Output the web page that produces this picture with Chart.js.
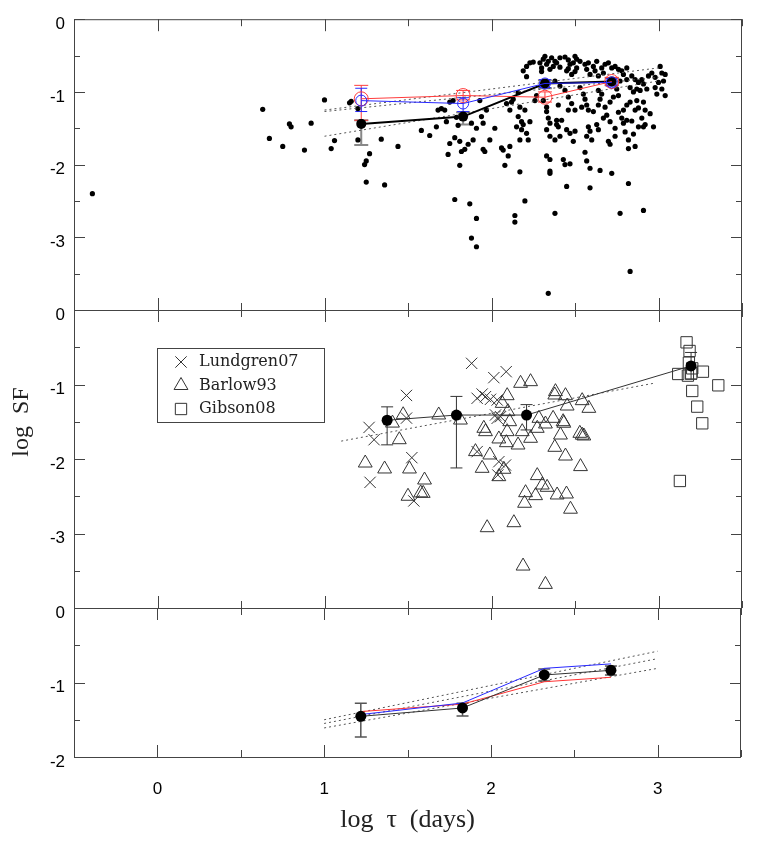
<!DOCTYPE html>
<html>
<head>
<meta charset="utf-8">
<script src="https://cdn.jsdelivr.net/npm/chart.js@4.4.1/dist/chart.umd.min.js"></script>
<style>
html, body { margin: 0; padding: 0; background: #fff; }
#wrap { position: relative; width: 763px; height: 850px; }
#wrap canvas { position: absolute; left: 0; top: 0; }
</style>
</head>
<body>
<div id="wrap">
<canvas id="panelTop" width="763" height="850"></canvas>
<canvas id="panelMid" width="763" height="850"></canvas>
<canvas id="panelBot" width="763" height="850"></canvas>
</div>
<script>
// ---- data (log tau, log SF) ----
var xTickValues = [-0.5, 0, 0.5, 1, 1.5, 2, 2.5, 3, 3.5];
var xTickLabels = ['', '0', '', '1', '', '2', '', '3', ''];

var quasarPairs = [
    [-0.39,-2.40],[0.63,-1.24],[0.67,-1.64],[0.75,-1.75],[0.79,-1.44],[0.80,-1.48],[0.88,-1.80],[0.92,-1.43],
    [1.00,-1.11],[1.04,-1.78],[1.06,-1.67],[1.15,-1.15],[1.16,-1.13],[1.20,-1.23],[1.20,-1.66],[1.22,-1.41],
    [1.27,-1.85],[1.25,-1.95],[1.24,-2.00],[1.25,-2.24],[1.34,-1.65],[1.36,-2.28],[1.44,-1.75],[1.58,-1.53],
    [1.63,-1.60],[1.67,-1.48],[1.68,-1.25],[1.73,-1.41],[1.75,-1.71],[1.74,-1.86],[1.78,-2.48],[1.81,-2.01],
    [1.79,-1.35],[1.80,-1.46],[1.82,-1.82],[1.84,-1.79],[1.87,-2.54],[1.88,-3.01],[1.91,-2.74],[1.91,-3.13],
    [1.96,-1.82],[2.02,-1.50],[2.07,-1.80],[2.08,-2.01],[2.10,-1.88],[2.14,-2.70],[2.14,-2.79],[2.17,-2.10],
    [2.20,-2.50],[2.34,-3.77],[2.38,-2.67],[2.35,-2.09],[2.35,-2.12],[2.45,-2.30],[2.59,-2.32],[2.72,-2.12],
    [2.82,-2.26],[2.77,-2.67],[2.91,-2.63],[2.83,-3.47],[2.43,-1.93],[2.44,-2.00],[2.47,-1.99],[2.56,-1.83],
    [2.57,-1.95],[2.59,-2.05],[2.65,-2.08],[2.35,-1.93],[2.33,-1.88],
    [2.36,-0.53],[2.38,-0.58],[2.37,-0.65],[2.23,-0.60],[2.21,-0.65],[2.19,-0.71],[2.21,-0.79],[2.25,-0.59],
    [2.29,-0.60],[2.30,-0.67],[2.16,-1.01],[2.13,-1.10],[2.12,-1.14],[2.09,-1.16],[2.11,-1.25],[2.17,-1.21],
    [2.20,-1.25],[2.16,-1.34],[2.18,-1.41],[2.19,-1.45],[2.15,-1.48],[2.18,-1.52],[2.21,-1.57],[2.22,-1.66],
    [2.17,-1.66],[2.23,-1.41],[2.31,-1.12],[2.33,-1.21],[2.33,-1.27],[2.34,-1.36],[2.35,-1.43],[2.33,-1.52],
    [2.39,-1.39],[2.40,-1.48],[2.35,-1.61],[2.38,-1.66],[2.27,-1.05],[2.26,-1.12],[1.93,-1.12],[1.94,-1.34],
    [1.95,-1.43],[1.91,-1.50],[1.88,-1.43],[1.97,-1.25],[1.99,-1.66],[1.89,-1.66],[1.81,-1.68],[1.86,-1.72],
    [1.78,-1.63],[1.77,-1.12],[1.75,-1.14],[1.72,-1.25],[1.70,-1.23],[2.11,-1.75],[2.06,-1.77],[1.95,-1.79],
    [2.41,-0.53],[2.39,-0.60],[2.46,-0.56],[2.47,-0.62],[2.45,-0.71],[2.48,-0.76],[2.50,-0.51],[2.51,-0.67],
    [2.53,-0.58],[2.56,-0.62],[2.57,-0.69],[2.58,-0.60],[2.59,-0.76],[2.61,-0.65],[2.62,-0.71],[2.63,-0.58],
    [2.64,-0.78],[2.66,-0.67],[2.68,-0.62],[2.70,-0.60],[2.67,-0.74],[2.72,-0.67],[2.74,-0.65],[2.76,-0.69],
    [2.78,-0.71],[2.81,-0.67],[2.79,-0.76],[2.77,-0.85],[2.81,-0.83],[2.84,-0.78],[2.86,-0.83],[2.88,-0.87],
    [2.90,-0.83],[2.91,-0.89],[2.87,-0.96],[2.85,-1.00],[2.89,-0.98],[2.83,-0.94],[2.94,-0.78],[2.96,-0.74],
    [2.98,-0.80],[3.01,-0.65],[3.02,-0.74],[3.00,-0.87],[3.03,-0.85],[3.04,-0.76],[2.98,-0.94],[2.93,-0.96],
    [2.38,-0.85],[2.41,-0.92],[2.44,-0.98],[2.46,-1.07],[2.48,-1.16],[2.50,-1.25],[2.46,-1.25],[2.40,-1.18],
    [2.53,-0.94],[2.55,-1.03],[2.56,-1.10],[2.57,-1.18],[2.58,-1.25],[2.61,-1.27],[2.54,-1.21],[2.64,-0.98],
    [2.65,-1.10],[2.66,-1.03],[2.68,-1.21],[2.64,-1.18],[2.71,-1.14],[2.73,-1.07],[2.75,-0.96],[2.76,-1.05],
    [2.81,-1.18],[2.83,-1.14],[2.87,-1.12],[2.91,-1.14],[2.79,-1.25],[2.86,-1.25],[2.92,-1.25],[3.02,-0.96],
    [3.04,-1.05],[2.99,-1.03],
    [2.39,-1.45],[2.42,-1.39],[2.45,-1.52],[2.47,-1.57],[2.50,-1.54],[2.41,-1.61],[2.58,-1.48],[2.59,-1.54],
    [2.57,-1.61],[2.63,-1.45],[2.64,-1.52],[2.67,-1.36],[2.69,-1.32],[2.71,-1.41],[2.74,-1.61],[2.79,-1.43],
    [2.81,-1.39],[2.88,-1.48],[2.92,-1.45],[2.82,-1.66],[2.60,-1.66],[2.49,-1.68],[2.70,-1.68],
    [2.31,-0.55],[2.33,-0.62],[2.30,-0.72],[2.35,-0.69],[2.32,-0.51],[2.34,-0.58],[2.41,-0.66],[2.44,-0.52],
    [2.46,-0.68],[2.49,-0.60],[2.51,-0.55],[2.50,-0.72],[2.76,-1.28],[2.78,-1.36],[2.80,-1.55],[2.85,-1.58],
    [2.84,-1.40],[2.90,-1.36],[2.88,-1.22],[2.95,-1.30],[2.97,-1.48],[2.74,-1.50],[2.86,-1.75],[2.82,-1.78],
    [2.71,-1.72],[2.91,-1.48]
];

// binned structure function, top and bottom panels
var binTau = [1.22, 1.83, 2.32, 2.72];
var topAllSF = [-1.44, -1.34, -0.885, -0.857];
var topAllLo = [-1.73, -1.45, -0.95, -0.91];
var topAllHi = [-1.39, -1.28, -0.84, -0.81];
var topRedSF = [-1.095, -1.05, -1.073, -0.857];
var topRedLo = [-1.39, -1.11, -1.14, -0.91];
var topRedHi = [-0.91, -0.98, -1.00, -0.80];
var topBlueSF = [-1.12, -1.16, -0.884, -0.87];
var topBlueLo = [-1.27, -1.27, -0.94, -0.92];
var topBlueHi = [-0.95, -1.08, -0.83, -0.82];
var fitTau = [1, 3];
var topFits = [[-1.25, -0.67], [-1.27, -0.80], [-1.61, -0.85]];

// comparison samples, middle panel
var lundgrenPairs = [
    [1.267,-1.576],[1.297,-1.741],[1.273,-2.313],[1.491,-1.147],[1.491,-1.451],[1.523,-1.982],[1.535,-2.563],
    [1.881,-0.716],[2.014,-0.908],[2.088,-0.828],[1.914,-1.185],[1.944,-1.128],[1.964,-1.163],[1.994,-1.199],
    [2.034,-1.208],[2.024,-1.409],[2.034,-1.454],[2.054,-1.432],[1.914,-1.901],[2.044,-2.036],[2.084,-2.081],
    [2.038,-2.215]
];
var barlowPairs = [
    [1.244,-2.054],[1.36,-2.134],[1.471,-1.406],[1.407,-1.518],[1.448,-1.741],[1.509,-2.134],[1.50,-2.50],
    [1.576,-2.455],[1.599,-2.282],[1.591,-2.461],[1.684,-1.409],[1.814,-1.477],[2.174,-0.984],[2.234,-0.962],
    [2.094,-1.15],[2.064,-1.253],[2.098,-1.364],[2.109,-1.499],[1.954,-1.588],[1.964,-1.633],[2.094,-1.633],
    [2.044,-1.731],[2.089,-1.781],[2.159,-1.812],[2.184,-1.633],[2.234,-1.722],[2.274,-1.588],[2.284,-1.454],
    [2.323,-1.53],[2.369,-1.454],[2.429,-1.499],[2.433,-1.52],[2.383,-1.096],[2.379,-1.141],[2.443,-1.15],
    [2.453,-1.289],[2.543,-1.217],[2.583,-1.32],[2.413,-1.678],[2.379,-1.843],[2.443,-1.96],[2.529,-1.655],
    [2.543,-1.68],[2.553,-1.691],[2.533,-2.102],[1.904,-1.901],[1.99,-1.946],[1.944,-2.125],[2.044,-2.237],
    [2.074,-2.138],[2.274,-2.223],[2.304,-2.349],[2.333,-2.38],[2.204,-2.452],[2.264,-2.492],[2.198,-2.594],
    [2.393,-2.483],[2.449,-2.47],[2.473,-2.674],[2.134,-2.855],[1.974,-2.922],[2.189,-3.437],[2.323,-3.683]
];
var gibsonPairs = [
    [3.168,-0.434],[3.186,-0.55],[3.182,-0.707],[3.202,-0.783],[3.118,-0.859],[3.176,-0.881],[3.196,-0.85],
    [3.266,-0.828],[3.358,-1.011],[3.202,-1.087],[3.232,-1.297],[3.262,-1.521],[3.128,-2.295]
];
var midBinTau = [1.375, 1.79, 2.21, 3.195];
var midBinSF = [-1.48, -1.41, -1.41, -0.75];
var midBinLo = [-1.81, -2.12, -1.61, -0.93];
var midBinHi = [-1.30, -1.16, -1.27, -0.57];
var midFitTau = [1.10, 2.98];
var midFitSF = [-1.76, -0.98];

// bottom panel
var botAllSF = [-1.454, -1.342, -0.899, -0.837];
var botAllLo = [-1.73, -1.45, -0.98, -0.90];
var botAllHi = [-1.28, -1.28, -0.82, -0.78];
var botRedSF = [-1.39, -1.29, -0.99, -0.93];
var botBlueSF = [-1.43, -1.275, -0.81, -0.75];
var botFits = [[-1.50, -0.58], [-1.55, -0.68], [-1.61, -0.81]];

// ---- helpers ----
Chart.defaults.font.family = 'Liberation Sans';
Chart.defaults.color = '#000';

function pts(pairs) { return pairs.map(function(p) { return {x: p[0], y: p[1]}; }); }
function zip(xs, ys) { return xs.map(function(x, i) { return {x: x, y: ys[i]}; }); }
function isWhole(v) { return Math.abs(v - Math.round(v)) < 1e-6; }

function fitSets(fits) {
    return fits.map(function(f) {
        return {data: zip(fitTau, f), showLine: true, borderColor: '#555', borderWidth: 1,
                borderDash: [2, 3], pointRadius: 0, order: 9};
    });
}

function framePlugin() {
    return {
        id: 'frame',
        afterDraw: function(chart) {
            var ctx = chart.ctx, a = chart.chartArea, xs = chart.scales.x, ys = chart.scales.y;
            ctx.save();
            ctx.strokeStyle = '#444';
            ctx.lineWidth = 1;
            ctx.strokeRect(a.left + 0.5, a.top + 0.5, a.right - a.left - 1, a.bottom - a.top);
            ctx.beginPath();
            xs.ticks.forEach(function(t) {
                var px = Math.round(xs.getPixelForValue(t.value)) + 0.5;
                var len = isWhole(t.value) ? 12 : 7;
                ctx.moveTo(px, a.top); ctx.lineTo(px, a.top + len);
                ctx.moveTo(px, a.bottom); ctx.lineTo(px, a.bottom - len);
            });
            ys.ticks.forEach(function(t) {
                var py = Math.round(ys.getPixelForValue(t.value)) + 0.5;
                var len = isWhole(t.value) ? 11 : 6;
                ctx.moveTo(a.left, py); ctx.lineTo(a.left + len, py);
                ctx.moveTo(a.right, py); ctx.lineTo(a.right - len, py);
            });
            ctx.stroke();
            ctx.restore();
        }
    };
}

function errorBarPlugin(bars) {
    return {
        id: 'errorBars',
        beforeDatasetsDraw: function(chart) {
            var ctx = chart.ctx, xs = chart.scales.x, ys = chart.scales.y;
            ctx.save();
            bars.forEach(function(b) {
                ctx.strokeStyle = b.color;
                ctx.lineWidth = b.width;
                ctx.beginPath();
                b.x.forEach(function(xv, i) {
                    var px = xs.getPixelForValue(xv);
                    var p1 = ys.getPixelForValue(b.lo[i]), p2 = ys.getPixelForValue(b.hi[i]);
                    ctx.moveTo(px, p1); ctx.lineTo(px, p2);
                    ctx.moveTo(px - b.cap, p1); ctx.lineTo(px + b.cap, p1);
                    ctx.moveTo(px - b.cap, p2); ctx.lineTo(px + b.cap, p2);
                });
                ctx.stroke();
            });
            ctx.restore();
        }
    };
}

function makeOptions(padTop, padBottom, yMin, hidden, showX) {
    return {
        responsive: false,
        animation: false,
        events: [],
        layout: {padding: {top: padTop, bottom: padBottom, left: 0, right: 21}},
        plugins: {legend: {display: false}, tooltip: {enabled: false}},
        scales: {
            x: {
                type: 'linear', min: -0.5, max: 3.5,
                grid: {display: false, drawTicks: false},
                border: {display: false},
                ticks: {
                    display: showX, stepSize: 0.5, autoSkip: false, padding: 22,
                    font: {size: 17},
                    callback: function(v) {
                        var i = xTickValues.indexOf(v);
                        return i >= 0 ? xTickLabels[i] : '';
                    }
                },
                title: showX ? {display: true, text: 'log  \u03c4  (days)',
                                font: {family: 'Liberation Serif', size: 26},
                                padding: {top: 0, bottom: 14}, color: '#222'} : {display: false},
                afterFit: function(s) { s.height = showX ? 93 : 0; }
            },
            y: {
                type: 'linear', min: yMin, max: 0,
                grid: {display: false, drawTicks: false},
                border: {display: false},
                ticks: {
                    stepSize: 0.5, autoSkip: false, padding: 9, labelOffset: 5,
                    font: {size: 17},
                    callback: function(v) {
                        if (!isWhole(v)) return '';
                        var r = Math.round(v);
                        if (hidden.indexOf(r) >= 0) return '';
                        return r === 0 ? '0' : String(r);
                    }
                },
                afterFit: function(s) { s.width = 74; }
            }
        }
    };
}

// ---- top panel ----
new Chart(document.getElementById('panelTop'), {
    type: 'scatter',
    data: {
        datasets: [
            {data: pts(quasarPairs), pointRadius: 2.6, backgroundColor: '#000', borderWidth: 0, order: 10},
            {data: zip(binTau, topAllSF), showLine: true, borderColor: '#000', borderWidth: 2,
             pointRadius: 5, backgroundColor: '#000', pointBorderWidth: 0, order: 3},
            {data: zip(binTau, topRedSF), showLine: true, borderColor: 'rgb(255,60,60)', borderWidth: 1,
             pointRadius: 7, backgroundColor: 'rgba(0,0,0,0)', pointBorderWidth: 1, order: 2},
            {data: zip(binTau, topBlueSF), showLine: true, borderColor: 'rgb(40,40,255)', borderWidth: 1,
             pointRadius: 5.5, backgroundColor: 'rgba(0,0,0,0)', pointBorderWidth: 1, order: 1}
        ].concat(fitSets(topFits))
    },
    options: makeOptions(12, 540, -4, [-4], false),
    plugins: [framePlugin(), errorBarPlugin([
        {x: binTau, lo: topAllLo, hi: topAllHi, color: '#888', width: 2, cap: 7},
        {x: binTau, lo: topRedLo, hi: topRedHi, color: 'rgb(255,60,60)', width: 1, cap: 7},
        {x: binTau, lo: topBlueLo, hi: topBlueHi, color: 'rgb(40,40,255)', width: 1, cap: 6}
    ])]
});

// ---- middle panel ----
var legendItems = [
    {label: 'Lundgren07', style: 'crossRot', radius: 8},
    {label: 'Barlow93', style: 'triangle', radius: 8},
    {label: 'Gibson08', style: 'rect', radius: 8}
];

var midLegendPlugin = {
    id: 'midLegend',
    afterDraw: function(chart) {
        var ctx = chart.ctx;
        ctx.save();
        ctx.strokeStyle = '#444';
        ctx.lineWidth = 1;
        ctx.strokeRect(157.5, 348.5, 167, 74);
        ctx.font = '16px "DejaVu Serif"';
        ctx.fillStyle = '#222';
        ctx.textBaseline = 'middle';
        legendItems.forEach(function(item, i) {
            var y = 362 + i * 23.5;
            ctx.strokeStyle = '#333';
            ctx.fillStyle = 'rgba(0,0,0,0)';
            Chart.helpers.drawPoint(ctx, {pointStyle: item.style, radius: item.radius, borderWidth: 1, rotation: 0}, 181, y);
            ctx.fillStyle = '#222';
            ctx.fillText(item.label, 199, y);
        });
        // y-axis title
        ctx.translate(22, 422);
        ctx.rotate(-Math.PI / 2);
        ctx.font = '24px "Liberation Serif"';
        ctx.textAlign = 'center';
        ctx.fillText('log  SF', 0, 0);
        ctx.restore();
    }
};

new Chart(document.getElementById('panelMid'), {
    type: 'scatter',
    data: {
        datasets: [
            {data: pts(lundgrenPairs), pointStyle: 'crossRot', pointRadius: 8, borderColor: '#333',
             borderWidth: 1, order: 10},
            {data: pts(barlowPairs), pointStyle: 'triangle', pointRadius: 8, borderColor: '#333',
             backgroundColor: 'rgba(0,0,0,0)', borderWidth: 1, order: 10},
            {data: pts(gibsonPairs), pointStyle: 'rect', pointRadius: 8, borderColor: '#333',
             backgroundColor: 'rgba(0,0,0,0)', borderWidth: 1, order: 10},
            {data: zip(midFitTau, midFitSF), showLine: true, borderColor: '#555', borderWidth: 1,
             borderDash: [2, 3], pointRadius: 0, order: 9},
            {data: zip(midBinTau, midBinSF), showLine: true, borderColor: '#333', borderWidth: 1,
             pointRadius: 5.5, backgroundColor: '#000', pointBorderWidth: 0, order: 1}
        ]
    },
    options: makeOptions(310, 242, -4, [-4], false),
    plugins: [framePlugin(), midLegendPlugin, errorBarPlugin([
        {x: midBinTau, lo: midBinLo, hi: midBinHi, color: '#333', width: 1, cap: 6}
    ])]
});

// ---- bottom panel ----
new Chart(document.getElementById('panelBot'), {
    type: 'scatter',
    data: {
        datasets: [
            {data: zip(binTau, botAllSF), showLine: true, borderColor: '#333', borderWidth: 1,
             pointRadius: 5.5, backgroundColor: '#000', pointBorderWidth: 0, order: 1},
            {data: zip(binTau, botRedSF), showLine: true, borderColor: 'rgb(255,50,50)', borderWidth: 1,
             pointRadius: 0, order: 3},
            {data: zip(binTau, botBlueSF), showLine: true, borderColor: 'rgb(40,40,255)', borderWidth: 1,
             pointRadius: 0, order: 2}
        ].concat(fitSets(botFits))
    },
    options: makeOptions(608, 0, -2, [], true),
    plugins: [framePlugin(), errorBarPlugin([
        {x: binTau, lo: botAllLo, hi: botAllHi, color: '#555', width: 1.5, cap: 6}
    ])]
});
</script>
</body>
</html>
